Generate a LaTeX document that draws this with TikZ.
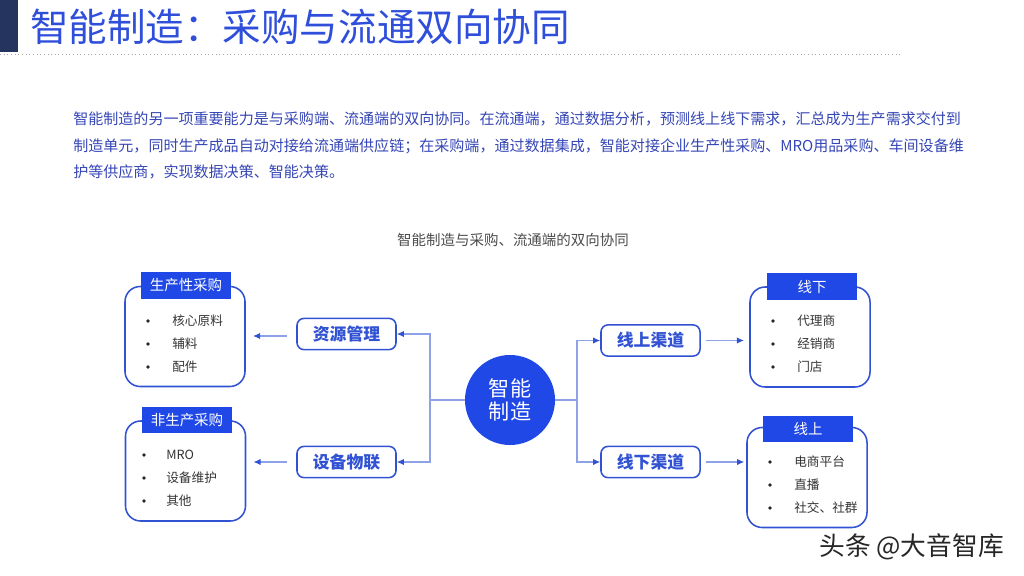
\documentclass[tikz,border=0pt]{standalone}
\usepackage{fontspec}
\setmainfont{Noto Sans CJK SC}
\usetikzlibrary{positioning,arrows.meta}
\definecolor{navy}{HTML}{24345E}
\definecolor{titleblue}{HTML}{2F4FDB}
\definecolor{textblue}{HTML}{3546B5}
\definecolor{coreblue}{HTML}{1F48E6}
\definecolor{edgeblue}{HTML}{3152D2}
\definecolor{lineblue}{HTML}{8EA2E8}
\begin{document}
\begin{tikzpicture}[x=0.025cm,y=-0.025cm,>={Latex[length=5pt,width=4.5pt,color=edgeblue]},
		tag/.style={draw=edgeblue,line width=1.1pt,rounded corners=5pt,minimum width=2.475cm,minimum height=0.78cm,inner sep=0pt,text=edgeblue,font=\fontsize{12}{14}\selectfont\bfseries},
		grp/.style={draw=edgeblue,line width=1.1pt,rounded corners=0.38cm,minimum width=3cm,minimum height=2.5cm,inner sep=0pt},
		head/.style={fill=coreblue,text=white,minimum width=2.25cm,minimum height=0.66cm,inner sep=0pt,font=\fontsize{10.3}{12}\selectfont},
		dot/.style={circle,fill=black!85,minimum size=2.6pt,inner sep=0pt},
		item/.style={anchor=west,inner sep=0pt,text=black!80,font=\fontsize{9}{11}\selectfont},
		conn/.style={draw=lineblue,line width=0.8pt}]
	\useasboundingbox (0,0) rectangle (1024,576);
	\fill[navy] (0,0) rectangle (18,52);\draw[black!35,dotted,line width=0.6pt] (0,54) -- (902,54);
	\node[anchor=west,text=titleblue,inner sep=0pt,font=\fontsize{27.4}{30}\selectfont] (title) at (30,27) {智能制造：采购与流通双向协同};
	\node[anchor=west,text=textblue,inner sep=0pt,font=\fontsize{10.7}{12}\selectfont] (para1) at (73,119) {智能制造的另一项重要能力是与采购端、流通端的双向协同。在流通端，通过数据分析，预测线上线下需求，汇总成为生产需求交付到};
	\node[anchor=west,text=textblue,inner sep=0pt,font=\fontsize{10.7}{12}\selectfont] (para2) at (73,146) {制造单元，同时生产成品自动对接给流通端供应链；在采购端，通过数据集成，智能对接企业生产性采购、MRO用品采购、车间设备维};
	\node[anchor=west,text=textblue,inner sep=0pt,font=\fontsize{10.7}{12}\selectfont] (para3) at (73,172) {护等供应商，实现数据决策、智能决策。};
	\node[text=black!70,inner sep=0pt,font=\fontsize{10.3}{12}\selectfont] (caption) at (513,240) {智能制造与采购、流通端的双向协同};
	% centre
	\node[circle,fill=coreblue,minimum size=2.25cm,inner sep=0pt,text=white,align=center,font=\fontsize{15}{16}\selectfont] (core) at (510,400) {智能\\制造};
	\node[tag] (res) at (346.5,334) {资源管理};\node[tag] (iot) at (346.5,462) {设备物联};
	\node[tag] (online) at (650.5,340.5) {线上渠道};\node[tag] (offline) at (650.5,462) {线下渠道};
	% groups
	\node[grp] (prod) at (185,336.5) {};\node[head] (prodh) at (186,285.5) {生产性采购};
	\node[grp] (nprod) at (185.5,471) {};\node[head] (nprodh) at (187,420) {非生产采购};
	\node[grp] (store) at (810,337) {};\node[head] (storeh) at (812,286.5) {线下};
	\node[grp] (web) at (807,477.5) {};\node[head] (webh) at (808,429) {线上};
	\foreach \t [count=\i] in {核心原料,辅料,配件}{\node[dot] (pb\i) at (148,298+23*\i) {};\node[item] (pi\i) at (172,298+23*\i) {\t};}
	\foreach \t [count=\i] in {MRO,设备维护,其他}{\node[dot] (nb\i) at (144,432+23*\i) {};\node[item] (ni\i) at (166,432+23*\i) {\t};}
	\foreach \t [count=\i] in {代理商,经销商,门店}{\node[dot] (sb\i) at (773,298+23*\i) {};\node[item] (si\i) at (797,298+23*\i) {\t};}
	\foreach \t [count=\i] in {电商平台,直播,社交、社群}{\node[dot] (wb\i) at (770,439+23*\i) {};\node[item] (wi\i) at (794,439+23*\i) {\t};}
	% connectors
	\coordinate (jl) at (430,400);\coordinate (jr) at (577,400);
	\draw[conn] (core.west) -- (jl);\draw[conn,->] (jl) |- (res.east);\draw[conn,->] (jl) |- (iot.east);
	\draw[conn] (core.east) -- (jr);\draw[conn,->] (jr) |- (online.west);\draw[conn,->] (jr) |- (offline.west);
	\draw[conn,->,shorten <=0.23cm,shorten >=0.18cm] ([yshift=-0.05cm]res.west) -- ([yshift=-0.05cm]res.west -| prod.east);
	\draw[conn,->,shorten <=0.23cm,shorten >=0.18cm] (iot.west) -- (iot.west -| nprod.east);
	\draw[conn,->,shorten <=0.13cm,shorten >=0.13cm] (online.east) -- (online.east -| store.west);
	\draw[conn,->,shorten <=0.13cm,shorten >=0.05cm] (offline.east) -- (offline.east -| web.west);
	\node[anchor=west,inner sep=0pt,text=black!85,font=\fontsize{18.3}{20}\selectfont] (mark) at (819,547) {头条 @大音智库};
\end{tikzpicture}
\end{document}
